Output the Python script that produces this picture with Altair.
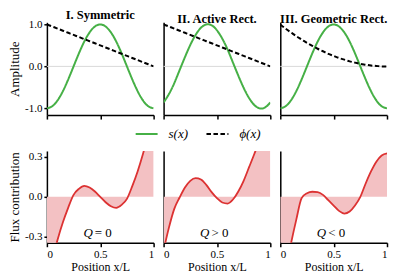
import altair as alt
import pandas as pd

# ---------------- data ----------------
X = [0.00, 0.05, 0.10, 0.15, 0.20, 0.25, 0.30, 0.35, 0.40, 0.45, 0.50,
     0.55, 0.60, 0.65, 0.70, 0.75, 0.80, 0.85, 0.90, 0.95, 1.00]

PANEL_TITLES = ["I. Symmetric", "II. Active Rect.", "III. Geometric Rect."]
SERIES = ["s(x)", "ϕ(x)"]

# top row: mode shape s(x)
S_SYM = [-1.00, -0.95, -0.81, -0.59, -0.31, 0.00, 0.31, 0.59, 0.81, 0.95, 1.00,
         0.95, 0.81, 0.59, 0.31, 0.00, -0.31, -0.59, -0.81, -0.95, -1.00]
S_ACT = [-0.86, -0.66, -0.40, -0.09, 0.22, 0.51, 0.75, 0.92, 1.00, 0.98, 0.86,
         0.66, 0.40, 0.09, -0.22, -0.51, -0.75, -0.92, -1.00, -0.98, -0.86]
S_GEO = [-1.00, -0.95, -0.81, -0.59, -0.31, 0.00, 0.31, 0.59, 0.81, 0.95, 1.00,
         0.95, 0.81, 0.59, 0.31, 0.00, -0.31, -0.59, -0.81, -0.95, -1.00]

# top row: weighting phi(x)
PHI_SYM = [1.00, 0.95, 0.90, 0.85, 0.80, 0.75, 0.70, 0.65, 0.60, 0.55, 0.50,
           0.45, 0.40, 0.35, 0.30, 0.25, 0.20, 0.15, 0.10, 0.05, 0.00]
PHI_ACT = [1.00, 0.95, 0.90, 0.85, 0.80, 0.75, 0.70, 0.65, 0.60, 0.55, 0.50,
           0.45, 0.40, 0.35, 0.30, 0.25, 0.20, 0.15, 0.10, 0.05, 0.00]
PHI_GEO = [1.00, 0.90, 0.81, 0.72, 0.64, 0.56, 0.49, 0.42, 0.36, 0.30, 0.25,
           0.20, 0.16, 0.12, 0.09, 0.06, 0.04, 0.02, 0.01, 0.00, 0.00]

# bottom row: flux contribution
F_SYM = [-0.60, -0.47, -0.32, -0.19, -0.08, 0.015, 0.06, 0.082, 0.07, 0.04, 0.00,
         -0.04, -0.07, -0.082, -0.06, -0.015, 0.08, 0.19, 0.32, 0.47, 0.60]
F_ACT = [-0.40, -0.23, -0.09, -0.005, 0.07, 0.12, 0.14, 0.13, 0.09, 0.035, -0.01,
         -0.042, -0.05, -0.02, 0.04, 0.12, 0.22, 0.32, 0.43, 0.55, 0.67]
F_GEO = [-0.75, -0.55, -0.35, -0.17, -0.01, 0.027, 0.038, 0.035, 0.015, -0.025, -0.065,
         -0.105, -0.125, -0.11, -0.065, 0.00, 0.10, 0.19, 0.263, 0.309, 0.325]

Q_TEXT = ["= 0", "> 0", "< 0"]
Q_X = [0.43, 0.43, 0.43]
Q_Y = [-0.27, -0.27, -0.27]

S_LIST = [S_SYM, S_ACT, S_GEO]
PHI_LIST = [PHI_SYM, PHI_ACT, PHI_GEO]
F_LIST = [F_SYM, F_ACT, F_GEO]

# ---------------- style ----------------
FONT = "Liberation Serif"
GREEN = "#46b046"
RED = "#dc3232"
FILL = "#f3c1c3"
W = 107
H_TOP = 93
H_BOT = 92

label_expr = ("datum.value < 0 ? '-' + format(-datum.value, '.1f') "
              ": format(datum.value, '.1f')")

legend = alt.Legend(
    title=None, orient="none", legendX=88, legendY=100, direction="horizontal",
    symbolType="stroke", symbolSize=484, symbolStrokeWidth=2,
    labelFont=FONT, labelFontSize=13, labelFontStyle="italic", labelColor="black",
    labelOffset=10, columnPadding=14,
)
color_scale = alt.Scale(domain=SERIES, range=[GREEN, "black"])
dash_scale = alt.Scale(domain=SERIES, range=[[1, 0], [4.5, 2.5]])


def y_axis_top(first):
    if first:
        return alt.Axis(values=[-1, 0, 1], labelExpr=label_expr, title="Amplitude",
                        tickSize=3, labelPadding=2, titlePadding=3, grid=False)
    return alt.Axis(labels=False, ticks=False, title=None, grid=False)


def y_axis_bot(first):
    if first:
        return alt.Axis(values=[-0.3, 0, 0.3], labelExpr=label_expr,
                        title="Flux contribution",
                        tickSize=3, labelPadding=2, titlePadding=3, grid=False)
    return alt.Axis(labels=False, ticks=False, title=None, grid=False)


def top_panel(i):
    df = pd.DataFrame({
        "x": X * 2,
        "v": S_LIST[i] + PHI_LIST[i],
        "series": [SERIES[0]] * len(X) + [SERIES[1]] * len(X),
    })
    xenc = alt.X("x:Q", scale=alt.Scale(domain=[0, 1], nice=False),
                 axis=alt.Axis(values=[0, 0.5, 1], labels=False, title=None,
                               tickSize=4, grid=False))
    yenc = alt.Y("v:Q", scale=alt.Scale(domain=[-1.16, 1.05], nice=False, zero=False),
                 axis=y_axis_top(i == 0))
    zero = alt.Chart(pd.DataFrame({"x": [0, 1], "v": [0, 0]})).mark_line(
        color="#d9d9d9", strokeWidth=1).encode(x=xenc, y=yenc)
    lines = alt.Chart(df).mark_line(clip=True, interpolate="natural", strokeWidth=2).encode(
        x=xenc, y=yenc,
        color=alt.Color("series:N", scale=color_scale, legend=legend),
        strokeDash=alt.StrokeDash("series:N", scale=dash_scale, legend=legend),
    )
    return alt.layer(zero, lines).properties(
        width=W, height=H_TOP,
        title=alt.TitleParams(PANEL_TITLES[i], font=FONT, fontSize=12.5,
                              fontWeight="bold", offset=-3, color="black"),
    )


def bottom_panel(i):
    df = pd.DataFrame({"x": X, "f": F_LIST[i]})
    xenc = alt.X("x:Q", scale=alt.Scale(domain=[0, 1], nice=False),
                 axis=alt.Axis(values=[0, 0.5, 1], format="~g", title="Position x/L",
                               tickSize=4, labelPadding=2, titlePadding=2, grid=False))
    yenc = alt.Y("f:Q", scale=alt.Scale(domain=[-0.343, 0.343], nice=False, zero=False),
                 axis=y_axis_bot(i == 0))
    area = alt.Chart(df).mark_area(clip=True, interpolate="monotone", color=FILL).encode(
        x=xenc, y=yenc, y2=alt.datum(0))
    line = alt.Chart(df).mark_line(clip=True, interpolate="monotone", color=RED,
                                   strokeWidth=1.8).encode(x=xenc, y=yenc)
    tdf = pd.DataFrame({"x": [Q_X[i]], "f": [Q_Y[i]], "q": ["Q"], "rest": [Q_TEXT[i]]})
    q1 = alt.Chart(tdf).mark_text(align="right", baseline="middle", font=FONT,
                                  fontSize=13, fontStyle="italic", color="black").encode(
        x=xenc, y=yenc, text="q:N")
    q2 = alt.Chart(tdf).mark_text(align="left", baseline="middle", font=FONT,
                                  fontSize=13, dx=2, color="black").encode(
        x=xenc, y=yenc, text="rest:N")
    return alt.layer(area, line, q1, q2).properties(width=W, height=H_BOT)


top_row = alt.hconcat(*[top_panel(i) for i in range(3)], spacing=10, bounds="flush")
bot_row = alt.hconcat(*[bottom_panel(i) for i in range(3)], spacing=10, bounds="flush")

chart = alt.vconcat(top_row, bot_row, spacing=30, padding=0, background="white").configure_view(
    strokeWidth=0
).configure_axis(
    domainColor="black", domainWidth=1.5, tickColor="black", tickWidth=1.5,
    labelFont=FONT, labelFontSize=11, labelColor="black",
    titleFont=FONT, titleFontSize=13, titleFontWeight="normal", titleColor="black",
).configure_axisX(titleFontSize=12)

chart.save("out.html", embed_options={"renderer": "svg", "actions": False})
